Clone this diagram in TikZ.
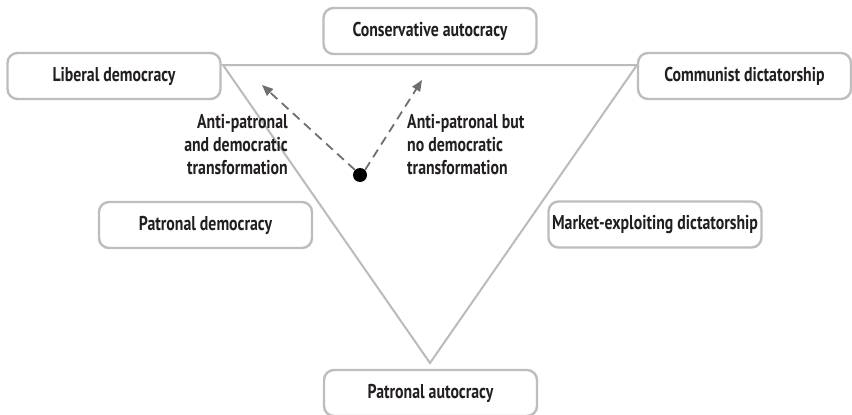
\documentclass[tikz,border=0pt]{standalone}
\usepackage{fontspec}
\setmainfont{PT Sans}[FakeStretch=0.79]
\usetikzlibrary{arrows.meta}
\definecolor{boxgray}{HTML}{BDBDBD}
\definecolor{linegray}{HTML}{BBBBBB}
\definecolor{arrowgray}{HTML}{6E6E6E}
\definecolor{txt}{HTML}{231F20}
\begin{document}
\begin{tikzpicture}[x=1pt,y=-1pt,
  regime/.style={draw=boxgray, line width=2.4pt, rounded corners=10pt, fill=white,
    minimum width=213pt, minimum height=46pt, inner sep=0pt,
    font=\fontsize{20}{23}\selectfont\bfseries, text=txt},
  side/.style={line width=2pt, draw=linegray},
  move/.style={draw=arrowgray, line width=1.8pt, dash pattern=on 9pt off 6pt,
    -{Triangle[length=11pt,width=9pt]}},
  note/.style={font=\fontsize{20}{23}\selectfont\bfseries, text=txt, inner sep=0pt}]
\useasboundingbox (0,0) rectangle (852,415);
% triangle
\coordinate (tl) at (223,65);
\coordinate (tr) at (637,65);
\coordinate (apex) at (430,363);
\draw[side] (tl) -- (tr) -- (apex) -- cycle;
% boxes
\node[regime] (lib) at (114,76) {Liberal democracy};
\node[regime] (cons) at (430,31) {Conservative autocracy};
\node[regime] (comm) at (744.5,76) {Communist dictatorship};
\node[regime] (pdem) at (205.5,225) {Patronal democracy};
\node[regime] (mkt) at (655,224.5) {Market-exploiting dictatorship};
\node[regime] (paut) at (430.5,393) {Patronal autocracy};
% dot and arrows
\node[circle, fill=black, minimum size=14pt, inner sep=0pt] (dot) at (360,175) {};
\coordinate (ltip) at (262,85);
\coordinate (rtip) at (422,80);
\draw[move] (dot.north west) -- (ltip);
\draw[move] (dot.north east) -- (rtip);
% labels
\node[note, align=right, anchor=north east] (lnote) at (288,114) {Anti-patronal\\and democratic\\transformation};
\node[note, align=left, anchor=north west] (rnote) at (407,114) {Anti-patronal but\\no democratic\\transformation};
\end{tikzpicture}
\end{document}
